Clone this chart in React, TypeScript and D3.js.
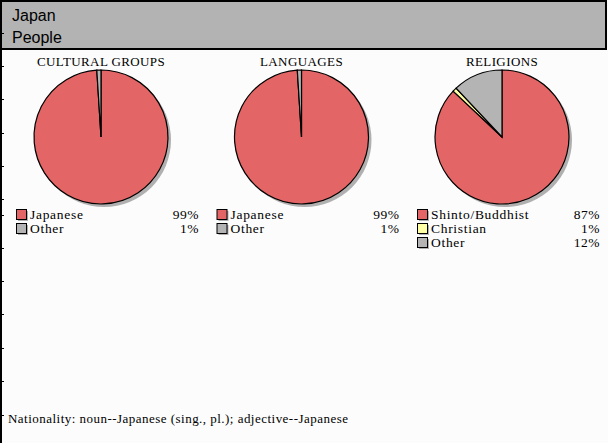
import React from "react";
import * as d3 from "d3";

const W = 608;
const H = 443;

const titles = ["Japan", "People"];
const chartTitles = ["CULTURAL GROUPS", "LANGUAGES", "RELIGIONS"];
const culturalLabels = ["Japanese", "Other"];
const culturalValues = [99, 1];
const languageLabels = ["Japanese", "Other"];
const languageValues = [99, 1];
const religionLabels = ["Shinto/Buddhist", "Christian", "Other"];
const religionValues = [87, 1, 12];
const footnote = "Nationality:  noun--Japanese  (sing.,  pl.);  adjective--Japanese";
const edgeTicks = [33, 66, 99, 133, 166, 199, 215, 248, 281, 314, 348, 381, 415];

const colorMap: Record<string, string> = {
  "Japanese": "#e46565",
  "Shinto/Buddhist": "#e46565",
  "Christian": "#ffffa6",
  "Other": "#b4b4b4",
};

const serif = "'Liberation Serif', 'DejaVu Serif', serif";
const sans = "'Liberation Sans', Arial, sans-serif";

type PieSpec = { title: string; labels: string[]; values: number[] };
const pies: PieSpec[] = [
  { title: chartTitles[0], labels: culturalLabels, values: culturalValues },
  { title: chartTitles[1], labels: languageLabels, values: languageValues },
  { title: chartTitles[2], labels: religionLabels, values: religionValues },
];

const centers = d3.scalePoint<number>().domain([0, 1, 2]).range([101, 502]);
const R = 67;
const cy = 137;

function Pie({ spec, i }: { spec: PieSpec; i: number }) {
  const cx = centers(i)!;
  const pie = d3.pie<number>().sort(null).value((d) => d);
  const arcs = pie(spec.values);
  const arc = d3.arc<d3.PieArcDatum<number>>().innerRadius(0).outerRadius(R);
  const legX = cx - 85;
  const legRight = cx + 98;
  return (
    <g>
      <text x={cx} y={66} textAnchor="middle" fontFamily={serif} fontSize={13} letterSpacing={0.4} fill="#000">
        {spec.title}
      </text>
      <circle cx={cx + 3} cy={cy + 3} r={R} fill="#b0b0b0" />
      <g transform={`translate(${cx},${cy})`}>
        {arcs.map((a, k) => (
          <path key={k} d={arc(a) || ""} fill={colorMap[spec.labels[k]]} stroke="#000" strokeWidth={1.2} />
        ))}
      </g>
      {spec.labels.map((lab, k) => {
        const y = 209 + k * 14;
        return (
          <g key={k}>
            <rect x={legX + 2} y={y + 2} width={10} height={10} fill="#b0b0b0" />
            <rect x={legX + 0.5} y={y + 0.5} width={10} height={10} fill={colorMap[lab]} stroke="#000" strokeWidth={1} />
            <text x={legX + 14} y={y + 9.5} fontFamily={serif} fontSize={13.5} letterSpacing={0.7} fill="#000">
              {lab}
            </text>
            <text x={legRight} y={y + 9.5} textAnchor="end" fontFamily={serif} fontSize={13.5} letterSpacing={0.5} fill="#000">
              {spec.values[k] + "%"}
            </text>
          </g>
        );
      })}
    </g>
  );
}

export default function App() {
  return (
    <div style={{ position: "absolute", left: 0, top: 0 }}>
      <style>{"body{margin:0}"}</style>
      <svg width={W} height={H} style={{ display: "block" }}>
        <rect x={0} y={0} width={W} height={H} fill="#fcfcfc" />
        <rect x={1} y={1} width={605} height={48} fill="#b3b3b3" stroke="#000" strokeWidth={2} />
        <text x={12} y={21} fontFamily={sans} fontSize={16} fill="#000">{titles[0]}</text>
        <text x={12} y={43} fontFamily={sans} fontSize={16} fill="#000">{titles[1]}</text>
        <line x1={1} y1={0} x2={1} y2={H} stroke="#000" strokeWidth={2} />
        {edgeTicks.map((t) => (
          <line key={t} x1={0} y1={t + 0.5} x2={4} y2={t + 0.5} stroke="#000" strokeWidth={1} />
        ))}
        {pies.map((p, i) => (
          <Pie key={i} spec={p} i={i} />
        ))}
        <text x={8} y={423} fontFamily={serif} fontSize={13} fill="#000" textLength={340} lengthAdjust="spacing">
          {footnote}
        </text>
      </svg>
    </div>
  );
}
